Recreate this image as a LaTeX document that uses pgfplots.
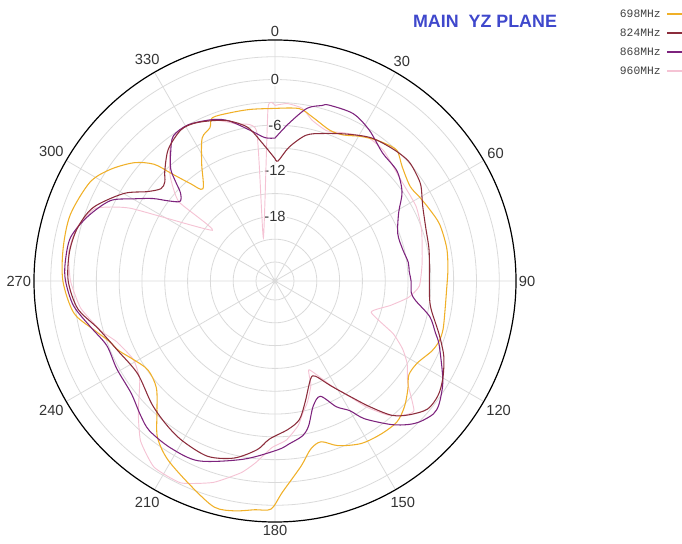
\documentclass[border=0pt]{standalone}
\usepackage{fontspec}
\setmainfont{Liberation Sans}
\newfontfamily\legfont{Liberation Mono}
\usepackage{pgfplots}
\usepackage{pgfplotstable}
\usepgfplotslibrary{polar}
\pgfplotsset{compat=1.18}

\definecolor{c698}{RGB}{240,176,40}
\definecolor{c824}{RGB}{140,45,60}
\definecolor{c868}{RGB}{125,35,125}
\definecolor{c960}{RGB}{245,195,212}
\definecolor{gridc}{RGB}{218,218,218}
\definecolor{titleblue}{RGB}{63,72,204}

% compass angle (deg, clockwise from top), gain (dB)
\pgfplotstableread{
a db
0 -3.8
8 -3.6
13 -4.4
20 -5.4
25 -5.3
30 -4.5
34 -3.9
38 -3.4
43 -3.0
48 -4.0
55 -4.8
60 -4.5
65 -4.1
71 -3.6
79 -3.5
86 -3.7
93 -3.9
100 -3.8
106 -3.5
110 -3.5
114 -3.9
120 -4.9
125 -5.0
129 -4.0
134 -2.8
139 -2.0
145 -2.0
152 -2.3
159 -3.3
164 -4.5
168 -3.9
172 -1.9
178 1.3
181 3.5
185 3.7
190 4.2
195 4.3
202 2.7
211 0.9
217 -0.8
222 -3.3
228 -5.5
235 -6.1
241 -5.2
246 -4.0
250 -3.3
255 -1.8
261 0.3
270 1.4
279 1.7
288 1.8
298 1.1
304 -0.3
310 -2.3
314 -4.4
316 -6.8
319 -9.5
322 -11.1
328 -8.3
333 -5.4
337 -4.6
339 -3.5
345 -3.6
352 -3.7
360 -3.8
}\tblA

\pgfplotstableread{
a db
0 -10.4
1.5 -10.7
6 -8.8
12 -6.9
18 -6.1
26 -5.0
34 -3.8
42 -3.2
48 -2.9
53 -3.2
57 -3.6
63 -4.7
71 -5.5
78 -5.8
85 -6.1
90 -6.2
97 -6.0
101 -5.5
108 -3.8
114 -2.2
120 -1.0
125 -0.3
130 -0.3
135 -1.6
139 -3.1
143 -5.8
147 -8.4
152 -10.9
157 -12.9
160 -12.8
166 -10.1
170 -8.0
175 -6.9
182 -5.7
186 -4.2
193 -2.6
201 -1.8
210 -2.2
217 -2.8
225 -3.6
236 -4.7
246 -3.9
255 -2.4
262 -0.3
270 0.7
278 0.8
285 0.4
292 -0.7
300 -3.5
305 -6.0
309 -7.2
312 -7.0
315 -6.0
321 -4.2
328 -3.1
333 -3.2
339 -3.9
344 -4.6
350 -6.0
355 -8.4
360 -10.4
}\tblB

\pgfplotstableread{
a db
0 -7.7
5 -5.7
10.5 -3.4
15 -2.6
17 -2.3
25 -2.2
32 -3.1
40 -4.5
48 -4.9
55 -6.1
61 -7.9
69 -9.2
76 -9.2
82 -8.8
86 -8.8
90 -8.6
95 -8.5
98 -7.8
103 -5.6
108 -4.3
111 -3.4
118 -1.6
122 -0.5
127 0.5
130 0.7
134 0.1
137 -0.7
141 -2.2
147 -4.9
150 -6.8
154 -8.1
158.5 -10.2
163 -9.3
167 -6.9
170 -5.8
175 -5.0
179 -4.3
190 -2.7
203 -0.8
212 -0.6
220 -0.8
225 -1.5
232 -2.5
241 -2.7
249 -2.8
256 -1.5
263 0.2
270 1.05
275 1.2
282 1.0
289 -0.45
296 -2.4
300 -4.9
304 -7.1
307 -9.0
310 -10.2
313 -9.5
315 -8.0
317 -6.4
321 -4.7
325 -3.2
331 -3.0
339 -3.75
344 -4.6
351 -6.5
356 -7.6
360 -7.7
}\tblC

\pgfplotstableread{
a db
0 -3.4
4 -3.1
9 -3.5
13 -4.8
19 -5.6
25 -5.0
33 -4.0
40 -4.2
50 -5.2
62 -5.5
71 -6.1
83 -7.0
92 -7.5
97 -8.8
102 -11.0
108 -13.2
114 -9.5
118 -7.5
122 -6.0
127.5 -4.5
133 -1.5
136 -2.0
140 -3.5
144 -6.0
147 -8.3
152 -11.0
159 -14.0
161 -12.0
165 -10.0
168 -8.8
171 -7.2
176 -5.5
181 -4.6
186 -2.5
190 -0.9
197 1.2
205 2.8
213 2.7
220 1.0
226 -1.5
234 -4.5
241 -5.2
249 -4.2
254 -2.7
262 -0.7
270 0.4
278 0.9
285 0.5
292 -1.0
296.7 -5.2
309 -15.9
309.5 -10.1
315 -7.0
321 -4.5
325 -3.2
331 -3.0
339 -3.8
346 -5.2
353 -6.6
345 -20.6
357.7 -3.7
360 -3.4
}\tblD

\begin{document}
\begin{tikzpicture}
\useasboundingbox (0,0) rectangle (511.5pt,407.25pt);
\begin{polaraxis}[
    at={(206.25pt,196.5pt)}, anchor=center,
    scale only axis, width=361.5pt, height=361.5pt,
    xmin=0, xmax=360, ymin=0, ymax=31.7,
    xtick={0,30,...,330},
    xticklabels={90,60,30,0,330,300,270,240,210,180,150,120},
    ytick={2.5,5.5,...,29.5},
    yticklabels={},
    major tick length=0pt,
    grid=major,
    major grid style={gridc, line width=0.6pt},
    x axis line style={black, line width=0.9pt},
    y axis line style={draw=none},
    xticklabel style={font=\fontsize{11}{12}\selectfont, text=black!80, inner sep=2pt},
    /pgf/number format/assume math mode=true,
]
\foreach \r/\t in {26.5/0, 20.5/-6, 14.5/-12, 8.5/-18}{
  \edef\tmp{\noexpand\node[fill=white, inner sep=0.8pt, text=black!80,
     font=\noexpand\fontsize{11}{12}\noexpand\selectfont] at (axis cs:90,\r) {\t};}
  \tmp
}
\addplot[c960, line width=0.7pt, mark=none, smooth, tension=0.3] table[x expr=90-\thisrow{a}, y expr=\thisrow{db}+26.5]{\tblD};
\addplot[c698, line width=0.8pt, mark=none, smooth, tension=0.5] table[x expr=90-\thisrow{a}, y expr=\thisrow{db}+26.5]{\tblA};
\addplot[c868, line width=0.8pt, mark=none, smooth, tension=0.5] table[x expr=90-\thisrow{a}, y expr=\thisrow{db}+26.5]{\tblC};
\addplot[c824, line width=0.8pt, mark=none, smooth, tension=0.5] table[x expr=90-\thisrow{a}, y expr=\thisrow{db}+26.5]{\tblB};
\end{polaraxis}

\node[font=\bfseries\fontsize{13.4}{15}\selectfont, text=titleblue] at (363.75pt,391.5pt) {MAIN\ \ YZ PLANE};

\foreach \y/\lab/\col in {396.75/698MHz/c698, 382.5/824MHz/c824, 368.25/868MHz/c868, 354/960MHz/c960}{
  \node[anchor=east, inner sep=0pt, text=black!75, font=\legfont\fontsize{8.5}{10}\selectfont] at (495.75pt,\y pt) {\lab};
  \draw[\col, line width=0.8pt] (500.25pt,\y pt) -- (513pt,\y pt);
}
\end{tikzpicture}
\end{document}
